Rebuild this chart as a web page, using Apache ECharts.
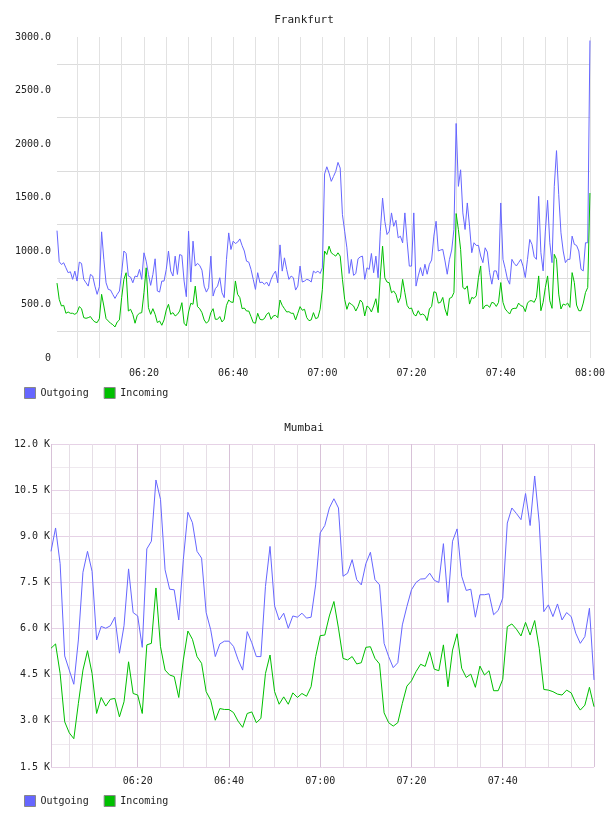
<!DOCTYPE html>
<html>
<head>
<meta charset="utf-8">
<title>Frankfurt / Mumbai traffic</title>
<script src="https://cdn.jsdelivr.net/npm/echarts@6/dist/echarts.min.js"></script>
<style>
  html, body { margin: 0; padding: 0; background: #fff; }
  #chart { width: 608px; height: 816px; }
</style>
</head>
<body>
<div id="chart"></div>
<script>
// sample times, in minutes after midnight
const frankfurtStart = 360.5; // 06:00:30, one sample every 30 s
const frankfurtStep = 0.5;
const mumbaiStart = 361;      // 06:01, one sample a minute
const mumbaiStep = 1;

const frankfurtOutgoing = [
  1190, 900, 874, 890, 843, 797, 806, 735, 812, 719,
  896, 884, 735, 703, 672, 781, 766, 672, 595, 666,
  1179, 921, 703, 641, 635, 595, 557, 595, 626, 797,
  1000, 977, 766, 756, 703, 766, 759, 828, 735, 983,
  905, 781, 679, 781, 927, 626, 616, 719, 719, 828,
  1000, 812, 766, 952, 781, 967, 958, 719, 573, 1185,
  710, 1092, 859, 884, 865, 821, 672, 616, 657, 952,
  579, 648, 672, 750, 610, 564, 921, 1169, 1014, 1092,
  1070, 1083, 1113, 1051, 1000, 905, 896, 828, 735, 641,
  797, 703, 710, 688, 710, 672, 735, 781, 812, 703,
  1057, 812, 936, 828, 735, 766, 750, 635, 672, 859,
  710, 719, 735, 728, 710, 812, 797, 812, 790, 843,
  1720, 1787, 1728, 1651, 1697, 1744, 1828, 1775, 1340, 1185,
  1030, 790, 921, 772, 790, 927, 945, 952, 735, 843,
  828, 977, 797, 952, 750, 1185, 1495, 1278, 1154, 1185,
  1356, 1231, 1287, 1123, 1138, 1076, 1356, 1092, 859, 859,
  1356, 672, 767, 845, 767, 876, 783, 876, 916, 1139,
  1278, 1000, 1009, 1015, 907, 783, 922, 1009, 1201, 2192,
  1604, 1759, 1356, 1201, 1449, 1232, 984, 1077, 1052, 1052,
  953, 891, 1030, 990, 798, 690, 814, 814, 730, 1449,
  922, 835, 736, 690, 922, 885, 860, 891, 922, 857,
  752, 922, 1108, 1062, 947, 922, 1511, 984, 814, 1186,
  1474, 1077, 891, 1604, 1938, 1526, 1170, 1000, 891, 922,
  922, 1139, 1062, 1052, 1000, 829, 814, 1077, 1077, 2967
];
const frankfurtIncoming = [
  700, 548, 486, 492, 418, 430, 418, 418, 408, 424,
  480, 461, 377, 371, 377, 387, 356, 337, 331, 368,
  595, 486, 368, 346, 325, 312, 290, 337, 356, 564,
  735, 797, 439, 455, 408, 325, 399, 418, 424, 610,
  843, 470, 408, 461, 408, 331, 346, 306, 356, 449,
  502, 408, 424, 393, 408, 439, 517, 325, 300, 430,
  511, 502, 672, 480, 461, 424, 356, 325, 346, 424,
  461, 362, 362, 387, 337, 362, 492, 542, 523, 520,
  720, 595, 564, 461, 467, 439, 439, 387, 331, 325,
  418, 362, 356, 368, 408, 424, 362, 393, 399, 377,
  542, 492, 461, 430, 433, 418, 418, 356, 418, 480,
  446, 455, 377, 349, 356, 424, 368, 377, 455, 641,
  1000, 967, 1045, 983, 967, 952, 983, 952, 735, 548,
  455, 517, 502, 486, 439, 480, 542, 517, 393, 486,
  470, 430, 486, 554, 424, 766, 1045, 750, 710, 703,
  610, 626, 595, 517, 564, 735, 610, 492, 461, 467,
  408, 393, 442, 402, 411, 396, 349, 458, 482, 619,
  612, 513, 520, 566, 458, 396, 557, 566, 612, 1350,
  1201, 1015, 659, 643, 674, 504, 566, 557, 581, 752,
  860, 458, 489, 495, 473, 520, 513, 482, 520, 705,
  520, 458, 433, 411, 458, 464, 464, 513, 489, 482,
  433, 513, 535, 535, 520, 566, 767, 442, 520, 659,
  767, 535, 464, 969, 922, 597, 458, 504, 495, 513,
  473, 798, 705, 495, 442, 442, 513, 612, 659, 1542
];

const mumbaiOutgoing = [
  8510, 9270, 8110, 5110, 4650, 4190, 5630, 7830, 8510, 7860,
  5630, 6070, 6010, 6090, 6370, 5200, 6090, 7940, 6520, 6410,
  5390, 8590, 8840, 10830, 10200, 7910, 7280, 7260, 6280, 8240,
  9780, 9440, 8510, 8290, 6520, 5960, 5090, 5500, 5590, 5590,
  5420, 4990, 4650, 5900, 5540, 5090, 5090, 7370, 8670, 6740,
  6280, 6500, 6010, 6410, 6370, 6500, 6340, 6370, 7420, 9110,
  9350, 9920, 10220, 9920, 7700, 7800, 8240, 7590, 7420, 8110,
  8480, 7590, 7420, 5520, 5090, 4730, 4890, 6120, 6720, 7260,
  7500, 7610, 7620, 7800, 7570, 7500, 8760, 6850, 8840, 9240,
  7700, 7240, 7280, 6370, 7100, 7100, 7130, 6450, 6590, 6990,
  9430, 9920, 9740, 9540, 10390, 9350, 10960, 9430, 6550, 6770,
  6390, 6800, 6280, 6520, 6390, 5850, 5520, 5740, 6660, 4330
];
const mumbaiIncoming = [
  5360, 5500, 4540, 2970, 2610, 2420, 3570, 4650, 5280, 4540,
  3240, 3760, 3480, 3700, 3730, 3130, 3620, 4920, 3890, 3840,
  3240, 5470, 5520, 7320, 5410, 4650, 4490, 4440, 3760, 4980,
  5920, 5650, 5090, 4870, 3950, 3670, 3020, 3400, 3370, 3370,
  3270, 2990, 2790, 3240, 3290, 2940, 3080, 4540, 5140, 3950,
  3540, 3780, 3540, 3910, 3760, 3890, 3800, 4110, 5090, 5770,
  5790, 6410, 6880, 6010, 5030, 4980, 5090, 4850, 4890, 5390,
  5410, 5030, 4850, 3260, 2940, 2830, 2940, 3570, 4130, 4300,
  4600, 4840, 4770, 5250, 4680, 4630, 5470, 4110, 5300, 5830,
  4710, 4410, 4520, 4090, 4780, 4490, 4630, 3980, 3980, 4350,
  6060, 6150, 5980, 5760, 6200, 5790, 6260, 5360, 4020, 4000,
  3950, 3870, 3840, 4000, 3910, 3570, 3350, 3510, 4090, 3460
];

const frankfurtTimeLabels = ['06:20', '06:40', '07:00', '07:20', '07:40', '08:00'];
const mumbaiTimeLabels = ['06:20', '06:40', '07:00', '07:20', '07:40'];
const frankfurtValueLabels = ['0', '500.0', '1000.0', '1500.0', '2000.0', '2500.0', '3000.0'];
const mumbaiValueLabels = ['1.5 K', '3.0 K', '4.5 K', '6.0 K', '7.5 K', '9.0 K', '10.5 K', '12.0 K'];

const FONT = 'DejaVu Sans Mono';
const TEXT = '#222';
const OUT_COLOR = '#6666ff';
const IN_COLOR = '#00c000';

function toPairs(start, step, values) {
  return values.map((v, i) => [start + i * step, v]);
}

function clock(m) {
  const h = Math.floor(m / 60);
  const mm = Math.round(m - h * 60);
  return String(h).padStart(2, '0') + ':' + String(mm).padStart(2, '0');
}

function timeFormatter(labels) {
  return (v) => {
    if (Math.abs(v - Math.round(v)) > 1e-6) return '';
    const s = clock(v);
    return labels.includes(s) ? s : '';
  };
}

function stepFormatter(labels, base, step) {
  return (v) => {
    const idx = (v - base) / step;
    return Number.isInteger(idx) && labels[idx] !== undefined ? labels[idx] : '';
  };
}

const labelStyle = { fontFamily: FONT, fontSize: 10, color: TEXT };

const legendBase = {
  data: ['Outgoing', 'Incoming'],
  left: 24,
  padding: 0,
  icon: 'rect',
  itemWidth: 11,
  itemHeight: 11,
  itemGap: 15,
  selectedMode: false,
  itemStyle: { borderColor: '#888', borderWidth: 1 },
  textStyle: { fontFamily: FONT, fontSize: 10, color: TEXT }
};

function lineSeries(name, color, xi, data) {
  return {
    name: name,
    type: 'line',
    xAxisIndex: xi,
    yAxisIndex: xi,
    data: data,
    showSymbol: false,
    symbol: 'none',
    color: color,
    lineStyle: { color: color, width: 1 },
    itemStyle: { color: color },
    emphasis: { disabled: true }
  };
}

const chart = echarts.init(document.getElementById('chart'));

chart.setOption({
  animation: false,
  backgroundColor: '#fff',
  title: [
    { text: 'Frankfurt', left: 'center', top: 15, padding: 0,
      textStyle: { fontFamily: FONT, fontSize: 11, fontWeight: 'normal', color: TEXT } },
    { text: 'Mumbai', left: 'center', top: 423, padding: 0,
      textStyle: { fontFamily: FONT, fontSize: 11, fontWeight: 'normal', color: TEXT } }
  ],
  legend: [
    Object.assign({}, legendBase, { top: 387 }),
    Object.assign({}, legendBase, { top: 795 })
  ],
  grid: [
    { left: 57, top: 37, width: 536, height: 321 },
    { left: 51, top: 444, width: 543, height: 323 }
  ],
  xAxis: [
    {
      type: 'value', gridIndex: 0,
      min: frankfurtStart, max: 480, minInterval: 5, maxInterval: 5,
      axisLine: { show: false }, axisTick: { show: false },
      axisLabel: Object.assign({ margin: 10, showMaxLabel: true,
        formatter: timeFormatter(frankfurtTimeLabels) }, labelStyle),
      splitLine: { show: true, showMinLine: false, lineStyle: { color: '#e2e2e2', width: 1 } }
    },
    {
      type: 'value', gridIndex: 1,
      min: mumbaiStart, max: 480, minInterval: 5, maxInterval: 5,
      axisLine: { show: false }, axisTick: { show: false },
      axisLabel: Object.assign({ margin: 9, formatter: timeFormatter(mumbaiTimeLabels) }, labelStyle),
      splitLine: { show: true, lineStyle: { color: ['#d8c2d8', '#e6dee6', '#e6dee6', '#e6dee6'], width: 1 } }
    }
  ],
  yAxis: [
    {
      type: 'value', gridIndex: 0,
      min: 0, max: 3000, interval: 250,
      axisLine: { show: false }, axisTick: { show: false },
      axisLabel: Object.assign({ margin: 6, formatter: stepFormatter(frankfurtValueLabels, 0, 500) }, labelStyle),
      splitLine: { show: true, lineStyle: { color: ['rgba(0,0,0,0)', '#dcdcdc'], width: 1 } }
    },
    {
      type: 'value', gridIndex: 1,
      min: 1500, max: 12000, interval: 750,
      axisLine: { show: false }, axisTick: { show: false },
      axisLabel: Object.assign({ margin: 1, formatter: stepFormatter(mumbaiValueLabels, 1500, 1500) }, labelStyle),
      splitLine: { show: true, lineStyle: { color: ['#e6d2e6', '#efe9ef'], width: 1 } }
    }
  ],
  series: [
    lineSeries('Outgoing', OUT_COLOR, 0, toPairs(frankfurtStart, frankfurtStep, frankfurtOutgoing)),
    lineSeries('Incoming', IN_COLOR, 0, toPairs(frankfurtStart, frankfurtStep, frankfurtIncoming)),
    lineSeries('Outgoing', OUT_COLOR, 1, toPairs(mumbaiStart, mumbaiStep, mumbaiOutgoing)),
    lineSeries('Incoming', IN_COLOR, 1, toPairs(mumbaiStart, mumbaiStep, mumbaiIncoming))
  ]
});
</script>
</body>
</html>
